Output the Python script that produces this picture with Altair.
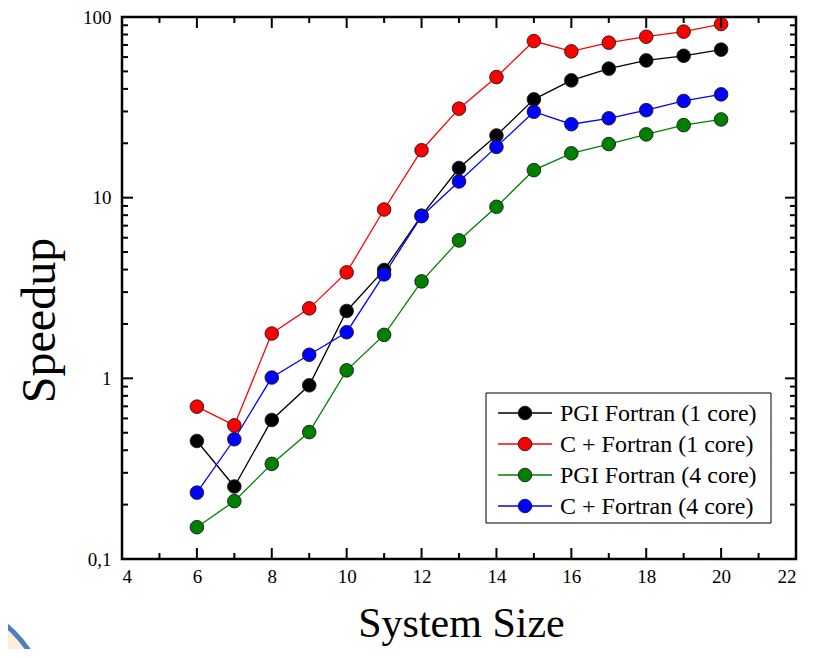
import altair as alt
import pandas as pd

sizes = list(range(6, 21))
pgi_1core = [0.45, 0.252, 0.588, 0.915, 2.36, 3.98, 7.95, 14.6, 22.1, 35.0, 44.6, 51.8, 57.5, 61.0, 66.0]
cf_1core = [0.697, 0.549, 1.77, 2.44, 3.86, 8.6, 18.3, 31.1, 46.5, 73.6, 64.5, 72.1, 77.8, 83.0, 91.4]
pgi_4core = [0.150, 0.209, 0.336, 0.504, 1.107, 1.74, 3.44, 5.8, 8.9, 14.2, 17.6, 19.8, 22.4, 25.2, 27.1]
cf_4core = [0.233, 0.46, 1.01, 1.35, 1.80, 3.76, 7.9, 12.3, 19.1, 29.9, 25.5, 27.5, 30.5, 34.3, 37.3]

series_names = ["PGI Fortran (1 core)", "C + Fortran (1 core)", "PGI Fortran (4 core)", "C + Fortran (4 core)"]
series_colors = ["#000000", "#ff0000", "#008000", "#0000ff"]

x_labels = [4, 6, 8, 10, 12, 14, 16, 18, 20, 22]
x_major_ticks = [6, 8, 10, 12, 14, 16, 18, 20]
x_minor_ticks = [5, 7, 9, 11, 13, 15, 17, 19, 21]
y_labels = [0.1, 1, 10, 100]
y_major_ticks = [1, 10]
y_minor_ticks = [k * m for m in (0.1, 1, 10) for k in range(2, 10)]

FONT = "Liberation Serif"
W, H = 674, 542

rows = []
for name, vals in zip(series_names, [pgi_1core, cf_1core, pgi_4core, cf_4core]):
    for s, v in zip(sizes, vals):
        rows.append({"size": s, "speedup": v, "series": name})
df = pd.DataFrame(rows)

X = alt.X("size:Q",
          scale=alt.Scale(domain=[4, 22], nice=False, zero=False),
          axis=alt.Axis(values=x_labels, ticks=False, domain=False, grid=False,
                        labelFont=FONT, labelFontSize=19, labelColor="black",
                        labelPadding=8, title="System Size", titleFont=FONT,
                        titleFontSize=42, titleFontWeight="normal", titleColor="black",
                        titleX=339, titleY=64, titleBaseline="middle", titleAnchor="middle"))
Y = alt.Y("speedup:Q",
          scale=alt.Scale(type="log", domain=[0.1, 100], nice=False),
          axis=alt.Axis(values=y_labels, ticks=False, domain=False, grid=False,
                        labelExpr="replace(format(datum.value, '~g'), '.', ',')",
                        labelFont=FONT, labelFontSize=19, labelColor="black",
                        labelPadding=11, title="Speedup", titleFont=FONT,
                        titleFontSize=48, titleFontWeight="normal", titleColor="black",
                        titleX=-82, titleY=303, titleBaseline="middle", titleAlign="center",
                        titleAngle=270))

color_scale = alt.Scale(domain=series_names, range=series_colors)

lines = alt.Chart(df).mark_line(strokeWidth=1.3).encode(
    x=X, y=Y, color=alt.Color("series:N", scale=color_scale, legend=None),
    order="size:Q")
points = alt.Chart(df).mark_circle(size=185, opacity=1, stroke="#1a1a1a", strokeWidth=0.9).encode(
    x=X, y=Y, fill=alt.Fill("series:N", scale=color_scale, legend=None))

def tick_df(col, vals):
    return pd.DataFrame({col: vals})

tick_layers = []
for vals, ln in ((x_major_ticks, 11), (x_minor_ticks, 6)):
    d = tick_df("size", vals)
    tick_layers.append(alt.Chart(d).mark_rule(color="black", strokeWidth=2).encode(
        x=X, y=alt.value(H), y2=alt.value(H - ln)))
    tick_layers.append(alt.Chart(d).mark_rule(color="black", strokeWidth=2).encode(
        x=X, y=alt.value(0), y2=alt.value(ln)))
for vals, ln in ((y_major_ticks, 11), (y_minor_ticks, 6)):
    d = tick_df("speedup", vals)
    tick_layers.append(alt.Chart(d).mark_rule(color="black", strokeWidth=2).encode(
        y=Y, x=alt.value(0), x2=alt.value(ln)))
    tick_layers.append(alt.Chart(d).mark_rule(color="black", strokeWidth=2).encode(
        y=Y, x=alt.value(W), x2=alt.value(W - ln)))

one = alt.Data(values=[{}])
deco = alt.Chart(one).mark_arc(radius=124, theta=0, theta2=6.2832, fill="#fdeedb",
                               stroke="#4f7fbf", strokeWidth=5).encode(
    x=alt.value(-196), y=alt.value(703))

legend_layers = [alt.Chart(one).mark_rect(fill="white", stroke="black", strokeWidth=1).encode(
    x=alt.value(364), x2=alt.value(649), y=alt.value(376), y2=alt.value(506))]
for i, (name, col) in enumerate(zip(series_names, series_colors)):
    ly = 396 + 31 * i
    ld = alt.Data(values=[{"series": name}])
    legend_layers.append(alt.Chart(ld).mark_rule(color=col, strokeWidth=1.3).encode(
        x=alt.value(376), x2=alt.value(430), y=alt.value(ly)))
    legend_layers.append(alt.Chart(ld).mark_circle(size=185, opacity=1, fill=col,
                                                   stroke="#1a1a1a", strokeWidth=0.9).encode(
        x=alt.value(403), y=alt.value(ly)))
    legend_layers.append(alt.Chart(ld).mark_text(font=FONT, fontSize=24, align="left",
                                                 baseline="middle", color="black").encode(
        x=alt.value(438), y=alt.value(ly + 1), text="series:N"))

chart = alt.layer(deco, lines, points, *tick_layers, *legend_layers).properties(
    width=W, height=H,
    autosize=alt.AutoSizeParams(type="none"),
    padding={"left": 114, "top": 9, "right": 20, "bottom": 90},
    background="white",
).configure_view(stroke="black", strokeWidth=2.5)

chart.save("out.html", embed_options={"renderer": "svg", "actions": False})
